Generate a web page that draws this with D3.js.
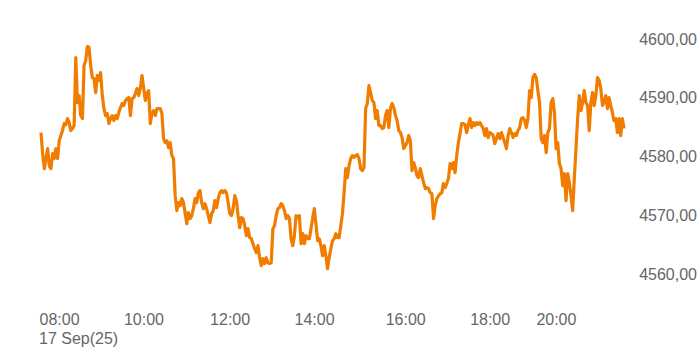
<!DOCTYPE html>
<html>
<head>
<meta charset="utf-8">
<script src="https://cdn.jsdelivr.net/npm/d3@7"></script>
<style>
  body { margin: 0; background: #fff; }
  svg text { font-family: "Liberation Sans", Arial, sans-serif; }
</style>
</head>
<body>
<svg id="chart"></svg>
<script>
// intraday quotes, one value per sample
const values = [
  4583.99, 4580.41, 4577.85, 4579.56, 4581.26, 4578.36, 4577.85, 4580.41, 4579.56, 4581.26,
  4579.56, 4582.62, 4583.48, 4584.33, 4585.52, 4585.35, 4586.37, 4585.69, 4584.33, 4584.67,
  4585.18, 4596.76, 4589.10, 4590.29, 4586.88, 4586.37, 4595.40, 4596.25, 4598.64, 4598.47,
  4595.40, 4593.36, 4593.19, 4590.80, 4593.70, 4592.84, 4594.21, 4590.29, 4588.07, 4586.88,
  4587.22, 4585.52, 4586.37, 4586.88, 4586.03, 4586.88, 4586.37, 4587.39, 4588.25, 4588.93,
  4588.59, 4589.44,
  4589.78, 4589.95, 4586.88, 4589.78, 4589.95, 4590.63, 4591.48, 4590.29, 4591.65, 4593.70,
  4591.48, 4589.44, 4590.63, 4591.14, 4585.52, 4587.22, 4587.73, 4586.88, 4588.07, 4588.07,
  4588.07, 4587.22, 4582.96, 4582.28, 4582.62, 4581.43, 4582.28, 4580.07, 4579.56, 4573.25,
  4570.70, 4572.06, 4571.55, 4572.74, 4572.06, 4570.36, 4568.48, 4570.36, 4569.34, 4569.85,
  4571.04, 4572.74, 4572.06, 4573.76, 4574.11, 4572.06, 4571.04, 4571.89, 4571.04, 4569.85,
  4568.65, 4570.19, 4570.70, 4572.40, 4571.21, 4572.74, 4573.76, 4574.11,
  4573.76, 4574.11, 4573.76, 4572.06, 4570.19, 4569.85, 4571.04, 4573.25, 4572.40, 4569.85,
  4567.80, 4569.51, 4569.34, 4568.14, 4566.44, 4567.63, 4566.10, 4565.93, 4565.08, 4564.22,
  4563.54, 4564.74, 4562.69, 4561.33, 4562.52, 4561.67, 4562.69, 4561.84, 4561.67, 4561.84,
  4567.63, 4568.14, 4569.85, 4571.04, 4571.21, 4571.89, 4571.55, 4570.70, 4569.34, 4569.85,
  4569.34, 4565.93, 4564.74, 4566.44, 4569.85, 4569.51, 4569.85, 4565.08, 4566.78, 4565.08,
  4566.44, 4565.93, 4565.93, 4567.63, 4569.34, 4571.04, 4568.48, 4565.59,
  4565.93, 4564.74, 4563.03, 4564.74, 4563.03, 4560.82, 4562.69, 4564.22, 4565.59, 4565.93,
  4566.78, 4566.10, 4566.10, 4568.14, 4570.19, 4573.76, 4577.85, 4576.32, 4578.36, 4579.56,
  4580.07, 4579.73, 4580.07, 4580.24, 4579.56, 4577.85, 4577.51, 4578.02, 4588.07, 4588.93,
  4591.99, 4590.80, 4589.44, 4589.10, 4586.37, 4587.73, 4585.18, 4585.18, 4584.67, 4584.84,
  4586.88, 4587.73, 4584.84, 4588.07, 4588.93, 4588.25, 4586.88, 4586.03, 4584.33, 4583.99,
  4583.13, 4581.26, 4581.77, 4582.28, 4583.48, 4582.62, 4577.51, 4578.88, 4578.02,
  4576.66, 4576.32, 4577.85, 4576.66, 4575.47, 4574.45, 4574.62, 4574.45, 4573.76, 4573.59,
  4569.34, 4571.55, 4572.74, 4573.25, 4573.59, 4573.76, 4575.30, 4574.62, 4575.30, 4576.15,
  4578.71, 4577.85, 4578.88, 4577.17, 4580.07, 4582.28, 4583.82, 4585.52, 4585.52, 4585.35,
  4583.99, 4585.35, 4586.37, 4584.84, 4585.69, 4585.18, 4585.69, 4585.35, 4585.69, 4585.18,
  4584.67, 4583.48, 4584.67, 4583.13, 4583.99, 4583.82, 4583.48, 4582.11, 4582.96, 4583.82,
  4582.96, 4583.99, 4583.13, 4582.28, 4581.26, 4583.48, 4584.67, 4583.99,
  4583.13, 4583.82, 4583.48, 4584.33, 4584.84, 4586.37, 4586.54, 4586.03, 4584.84, 4586.37,
  4591.14, 4589.95, 4593.36, 4593.87, 4593.36, 4591.14, 4589.10, 4582.96, 4582.28, 4583.48,
  4580.58, 4583.99, 4584.67, 4589.10, 4589.78, 4587.39, 4581.26, 4582.28, 4578.71, 4577.85,
  4574.96, 4577.00, 4572.40, 4577.00, 4575.47, 4573.25, 4570.70, 4576.15, 4581.26, 4586.37,
  4590.29, 4587.73, 4589.10, 4591.14, 4589.10, 4588.59, 4584.33, 4589.10, 4590.80, 4588.59,
  4590.29, 4593.36, 4592.84, 4591.48, 4588.59, 4589.10, 4590.29, 4588.07, 4589.95, 4588.59,
  4587.39, 4586.03, 4586.37, 4583.99, 4586.37, 4583.48, 4586.37, 4584.67
];

// x-axis labels and the sample index where each one sits
const tickLabels = ["08:00", "10:00", "12:00", "14:00", "16:00", "18:00", "20:00"];
const tickIdx = [0, 51, 103, 154, 209, 260, 300];
const dateLabel = "17 Sep(25)";

const yTicks = [4560, 4570, 4580, 4590, 4600];

const W = 700, H = 350;
const lineColor = "#f07d00";
const textColor = "#666";

const svg = d3.select("#chart")
  .attr("width", W)
  .attr("height", H);

const x = d3.scaleLinear()
  .domain([0, values.length - 1])
  .range([41, 624]);

const y = d3.scaleLinear()
  .domain([4560, 4600])
  .range([273.5, 38.5]);

const fmt = d3.formatLocale({ decimal: ",", thousands: ".", grouping: [3], currency: ["", ""] }).format(".2f");

// y axis on the right, labels only
const yAxis = svg.append("g")
  .call(d3.axisRight(y).tickValues(yTicks).tickSize(0).tickFormat(fmt));
yAxis.select(".domain").remove();
yAxis.selectAll("text")
  .attr("x", 697)
  .attr("dy", "0.35em")
  .attr("text-anchor", "end")
  .attr("fill", textColor)
  .style("font-size", "16px");

// x axis, labels only
const xAxis = svg.append("g")
  .attr("transform", "translate(0,312)")
  .call(d3.axisBottom(x).tickValues(tickIdx).tickSize(0)
    .tickFormat((d, i) => tickLabels[i]));
xAxis.select(".domain").remove();
xAxis.selectAll("text")
  .attr("y", 0)
  .attr("dy", "0.8em")
  .attr("x", -2)
  .attr("text-anchor", "start")
  .attr("fill", textColor)
  .style("font-size", "16px");

svg.append("text")
  .attr("x", x(tickIdx[0]) - 2)
  .attr("y", 344)
  .attr("fill", textColor)
  .style("font-size", "16px")
  .text(dateLabel);

const line = d3.line()
  .x((d, i) => x(i))
  .y(d => y(d));

svg.append("path")
  .datum(values)
  .attr("fill", "none")
  .attr("stroke", lineColor)
  .attr("stroke-width", 3.2)
  .attr("stroke-linejoin", "round")
  .attr("d", line);
</script>
</body>
</html>
